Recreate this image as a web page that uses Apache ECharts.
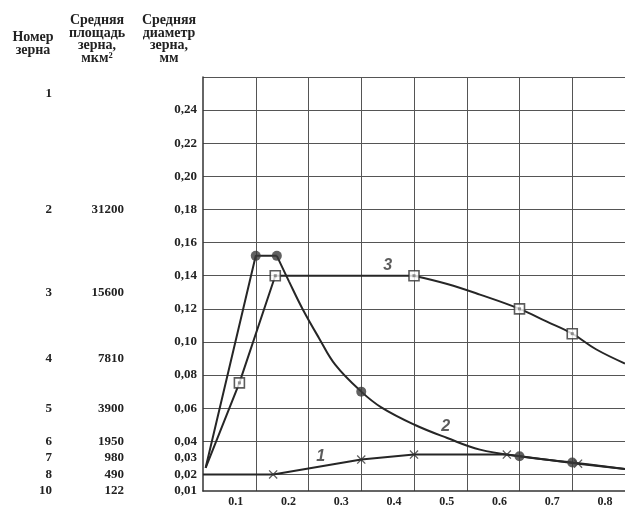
<!DOCTYPE html>
<html>
<head>
<meta charset="utf-8">
<script src="https://cdn.jsdelivr.net/npm/echarts@6/dist/echarts.min.js"></script>
<style>html,body{margin:0;padding:0;background:#fff}#c{width:625px;height:508px}</style>
</head>
<body>
<div id="c"></div>
<script>
// ---- tick labels / axis values ----
const yLabelValues = [0.01, 0.02, 0.03, 0.04, 0.06, 0.08, 0.10, 0.12, 0.14, 0.16, 0.18, 0.20, 0.22, 0.24];
const yGridValues = [0.02, 0.04, 0.06, 0.08, 0.10, 0.12, 0.14, 0.16, 0.18, 0.20, 0.22, 0.24, 0.26];
const xLabelValues = [0.1, 0.2, 0.3, 0.4, 0.5, 0.6, 0.7, 0.8];
const xGridValues = [0.1, 0.2, 0.3, 0.4, 0.5, 0.6, 0.7, 0.8];

// ---- grain scale columns ----
const grainNumbers = ['1', '2', '3', '4', '5', '6', '7', '8', '10'];
const grainAreas = ['', '31200', '15600', '7810', '3900', '1950', '980', '490', '122'];
const grainDiameters = [0.25, 0.18, 0.13, 0.09, 0.06, 0.04, 0.03, 0.02, 0.01];

// ---- curve 1 (crosses) ----
const curve1 = [[0, 0.02], [0.133, 0.02], [0.30, 0.029], [0.40, 0.032], [0.576, 0.032], [0.711, 0.0265], [0.8, 0.0233]];
const curve1Markers = [[0.133, 0.02], [0.30, 0.029], [0.40, 0.032], [0.576, 0.032], [0.711, 0.0265]];

// ---- curve 2 (filled circles) ----
const curve2Rise = [[0.005, 0.024], [0.1, 0.152], [0.14, 0.152]];
const curve2Fall = [[0.14, 0.152], [0.163, 0.1366], [0.188, 0.1204], [0.22, 0.1023], [0.251, 0.0861], [0.3, 0.07], [0.338, 0.0605], [0.401, 0.05], [0.463, 0.042], [0.525, 0.035], [0.6, 0.031], [0.7, 0.0272], [0.8, 0.0233]];
const curve2Markers = [[0.1, 0.152], [0.14, 0.152], [0.3, 0.07], [0.6, 0.031], [0.7, 0.0272]];

// ---- curve 3 (squares) ----
const curve3Rise = [[0.005, 0.024], [0.069, 0.0753], [0.137, 0.14], [0.4, 0.14]];
const curve3Fall = [[0.4, 0.14], [0.463, 0.135], [0.525, 0.1286], [0.6, 0.12], [0.651, 0.1124], [0.7, 0.105], [0.745, 0.0956], [0.8, 0.087]];
const curve3Markers = [[0.069, 0.0753], [0.137, 0.14], [0.4, 0.14], [0.6, 0.12], [0.7, 0.105]];

// ---- curve number labels ----
const curveLabelText = ['1', '2', '3'];
const curveLabelPos = [[0.223, 0.031], [0.46, 0.049], [0.35, 0.146]];

// ---- headers ----
const headerNumber = 'Номер\nзерна';
const headerArea = 'Средняя\nплощадь\nзерна,\nмкм²';
const headerDiam = 'Средняя\nдиаметр\nзерна,\nмм';

const SERIF = '"Liberation Serif", "Times New Roman", serif';
const INK = '#222';
const crossPath = 'path://M0,1 L1,0 L5,4 L9,0 L10,1 L6,5 L10,9 L9,10 L5,6 L1,10 L0,9 L4,5 Z';

function lookup(arr, v) {
  for (let i = 0; i < grainDiameters.length; i++) {
    if (Math.abs(grainDiameters[i] - v) < 1e-6) return arr[i];
  }
  return '';
}

const baseY = {
  type: 'value', min: 0.01, max: 0.26, position: 'left',
  axisLine: { show: false }, axisTick: { show: false }, splitLine: { show: false }
};
const labelStyle = {
  fontFamily: SERIF, fontWeight: 'bold', fontSize: 13, color: INK,
  padding: [0, 0, 16, 0]
};

const chart = echarts.init(document.getElementById('c'), null, { renderer: 'canvas' });
const lineStyle = { color: '#262626', width: 2 };

chart.setOption({
  animation: false,
  backgroundColor: '#fff',
  grid: { left: 203, top: 77, right: 0, bottom: 14 },
  xAxis: {
    type: 'value', min: 0, max: 0.8,
    axisLine: { show: true, lineStyle: { color: '#333', width: 1.5 } },
    axisTick: { show: false, customValues: xGridValues },
    splitLine: { show: true, lineStyle: { color: '#555', width: 1 } },
    axisLabel: {
      customValues: xLabelValues,
      formatter: v => v.toFixed(1),
      fontFamily: SERIF, fontWeight: 'bold', fontSize: 12, color: INK,
      margin: 5, padding: [0, 40, 0, 0]
    }
  },
  yAxis: [
    Object.assign({}, baseY, {
      axisLine: { show: true, lineStyle: { color: '#333', width: 1.5 } },
      axisTick: { show: false, customValues: yGridValues },
      splitLine: { show: true, lineStyle: { color: '#555', width: 1 } },
      axisLabel: Object.assign({}, labelStyle, {
        customValues: yLabelValues, margin: 6,
        formatter: v => v.toFixed(2).replace('.', ',')
      })
    }),
    Object.assign({}, baseY, {
      offset: 79,
      axisLabel: Object.assign({}, labelStyle, {
        customValues: grainDiameters, margin: 0,
        formatter: v => lookup(grainAreas, v)
      })
    }),
    Object.assign({}, baseY, {
      offset: 151,
      axisLabel: Object.assign({}, labelStyle, {
        customValues: grainDiameters, margin: 0,
        formatter: v => lookup(grainNumbers, v)
      })
    })
  ],
  graphic: [
    { type: 'text', x: 33, y: 30.5, style: { text: headerNumber, align: 'center', verticalAlign: 'top', font: 'bold 14px ' + SERIF, fill: INK, lineHeight: 13 } },
    { type: 'text', x: 97, y: 14.5, style: { text: headerArea, align: 'center', verticalAlign: 'top', font: 'bold 14px ' + SERIF, fill: INK, lineHeight: 12.5 } },
    { type: 'text', x: 169, y: 14.5, style: { text: headerDiam, align: 'center', verticalAlign: 'top', font: 'bold 14px ' + SERIF, fill: INK, lineHeight: 12.5 } }
  ],
  series: [
    { type: 'line', data: curve1, symbol: 'none', lineStyle: lineStyle, smooth: false, z: 2 },
    { type: 'line', data: curve2Rise, symbol: 'none', lineStyle: lineStyle, smooth: false, z: 2 },
    { type: 'line', data: curve2Fall, symbol: 'none', lineStyle: lineStyle, smooth: 0.4, z: 2 },
    { type: 'line', data: curve3Rise, symbol: 'none', lineStyle: lineStyle, smooth: false, z: 2 },
    { type: 'line', data: curve3Fall, symbol: 'none', lineStyle: lineStyle, smooth: 0.4, z: 2 },
    { type: 'scatter', data: curve1Markers, symbol: crossPath, symbolSize: 9, itemStyle: { color: '#333' }, z: 4 },
    { type: 'scatter', data: curve2Markers, symbol: 'circle', symbolSize: 10, itemStyle: { color: '#3a3a3a' }, z: 4 },
    { type: 'scatter', data: curve3Markers, symbol: 'rect', symbolSize: 10, itemStyle: { color: '#fff', borderColor: '#333', borderWidth: 1.6 }, z: 4 },
    { type: 'scatter', data: curve3Markers, symbol: 'rect', symbolSize: 3, itemStyle: { color: '#777' }, z: 5 },
    {
      type: 'scatter', symbolSize: 0, z: 6,
      data: curveLabelPos.map((p, i) => ({ value: p, name: curveLabelText[i] })),
      label: {
        show: true, position: 'inside', formatter: p => p.name,
        fontFamily: '"Liberation Sans", Arial, sans-serif', fontWeight: 'bold', fontStyle: 'italic',
        fontSize: 16, color: '#333'
      }
    }
  ]
});
</script>
</body>
</html>
